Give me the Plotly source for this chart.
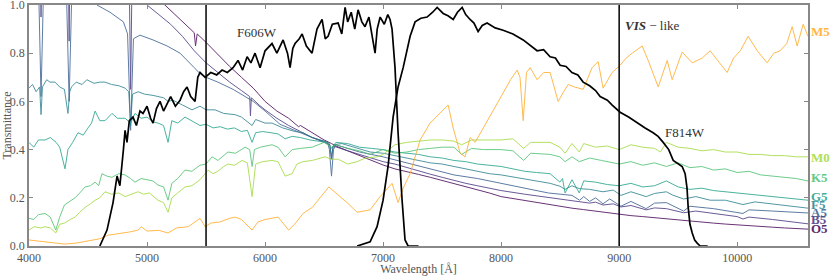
import plotly.graph_objects as go

# ---------------- data ----------------
wl_O5 = [4000,4200,4400,4541,4600,4686,4800,4861,5000,5150,5300,5400,5411,5425,5500,5600,5700,5800,5876,5900,
         6000,6100,6200,6284,6300,6400,6500,6563,6600,6700,6800,6900,7000,7100,7200,7300,7400,7500,7600,7700,
         7800,7900,8000,8100,8200,8300,8400,8500,8600,8700,8800,8900,9000,9100,9200,9300,9400,9500,9600,9700,
         9800,9900,10000,10100,10200,10300,10400,10500,10600]
O5 = [1.62,1.52,1.42,1.34,1.32,1.27,1.19,1.15,1.07,1.0,0.93,0.885,0.83,0.88,0.845,0.795,0.745,0.70,0.665,0.655,
      0.60,0.56,0.53,0.495,0.50,0.47,0.44,0.425,0.415,0.395,0.375,0.355,0.336,0.32,0.31,0.297,0.285,0.272,0.26,0.247,
      0.235,0.22,0.205,0.197,0.187,0.178,0.17,0.164,0.157,0.151,0.145,0.138,0.13,0.126,0.122,0.117,0.112,0.108,0.102,0.098,
      0.095,0.091,0.087,0.084,0.081,0.078,0.075,0.073,0.07]

wl_B5 = [4000,4090,4102,4114,4200,4300,4330,4340,4350,4471,4600,4700,4800,4850,4861,4872,4950,5000,5100,5200,
         5300,5400,5500,5600,5700,5800,5870,5876,5884,5950,6000,6100,6200,6300,6400,6500,6550,6563,6576,6700,
         6800,6900,7000,7100,7200,7300,7400,7500,7600,7700,7800,7900,8000,8200,8400,8600,8750,8800,8863,8950,
         9015,9100,9229,9300,9400,9546,9650,9800,10000,10049,10100,10300,10600]
B5 = [1.45,1.41,0.95,1.40,1.37,1.33,1.32,0.85,1.31,1.24,1.19,1.15,1.10,1.08,0.65,1.07,1.04,1.0,0.96,0.92,
      0.87,0.81,0.76,0.72,0.68,0.645,0.62,0.54,0.615,0.585,0.565,0.53,0.50,0.475,0.45,0.43,0.42,0.36,0.415,0.395,
      0.38,0.365,0.35,0.34,0.325,0.31,0.298,0.285,0.272,0.26,0.25,0.24,0.23,0.215,0.20,0.188,0.178,0.182,0.17,0.175,
      0.162,0.168,0.15,0.158,0.155,0.138,0.145,0.135,0.122,0.112,0.12,0.11,0.092]

wl_A5 = [4000,4060,4085,4102,4120,4150,4300,4320,4340,4360,4400,4500,4576,4686,4800,4835,4861,4885,4940,5051,
         5170,5280,5400,5449,5500,5600,5729,5800,5900,6000,6127,6250,6400,6530,6545,6563,6580,6600,6700,6800,
         6900,7000,7200,7400,7600,7800,8000,8200,8400,8500,8600,8665,8700,8750,8800,8863,8920,9015,9100,9229,
         9300,9400,9546,9600,9800,10049,10100,10300,10600]
A5 = [1.12,1.12,1.0,0.62,1.0,1.12,1.10,1.0,0.60,1.0,1.08,1.04,1.0,0.97,0.93,0.88,0.48,0.86,0.875,0.855,
      0.83,0.80,0.74,0.715,0.70,0.68,0.65,0.63,0.60,0.56,0.505,0.48,0.45,0.43,0.40,0.29,0.40,0.42,0.405,0.39,
      0.38,0.37,0.345,0.32,0.295,0.28,0.26,0.24,0.22,0.215,0.21,0.19,0.205,0.185,0.20,0.175,0.195,0.165,0.185,0.155,
      0.178,0.18,0.145,0.165,0.155,0.135,0.15,0.145,0.137]

wl_F5 = [4000,4030,4060,4090,4102,4114,4150,4178,4220,4260,4300,4330,4345,4360,4400,4450,4490,4550,4600,4644,
         4700,4760,4814,4845,4861,4877,4924,4980,5050,5093,5140,5178,5220,5300,5381,5449,5500,5576,5650,5746,
         5800,5890,5920,6000,6059,6150,6254,6320,6398,6500,6545,6563,6580,6650,6750,6890,7000,7100,7200,7300,
         7400,7500,7600,7700,7800,7900,8000,8100,8200,8300,8415,8498,8542,8600,8662,8750,8863,8950,9015,9100,
         9229,9300,9400,9450,9546,9650,9771,9900,10049,10150,10300,10450,10600]
F5 = [0.655,0.67,0.64,0.66,0.545,0.66,0.69,0.68,0.68,0.66,0.65,0.55,0.64,0.66,0.68,0.67,0.69,0.675,0.68,0.68,
      0.67,0.665,0.655,0.64,0.50,0.63,0.64,0.63,0.625,0.62,0.615,0.60,0.605,0.585,0.565,0.58,0.565,0.565,0.55,0.545,
      0.535,0.50,0.525,0.51,0.51,0.49,0.475,0.47,0.45,0.435,0.425,0.37,0.42,0.425,0.41,0.39,0.385,0.375,0.365,0.355,
      0.345,0.34,0.33,0.32,0.31,0.30,0.295,0.287,0.28,0.27,0.26,0.248,0.235,0.25,0.238,0.235,0.225,0.232,0.21,0.225,
      0.205,0.218,0.225,0.212,0.195,0.205,0.19,0.19,0.172,0.183,0.175,0.168,0.157]

wl_G5 = [4000,4040,4080,4136,4180,4230,4260,4305,4330,4370,4415,4460,4500,4530,4560,4600,4644,4680,4703,4750,
         4814,4861,4898,4950,5000,5050,5093,5140,5178,5210,5260,5322,5380,5449,5500,5560,5620,5680,5740,5800,
         5850,5890,5920,5980,6050,6110,6170,6230,6300,6380,6450,6520,6563,6600,6700,6800,6900,7000,7100,7200,
         7300,7400,7500,7600,7700,7800,7900,8000,8100,8200,8300,8415,8498,8520,8542,8600,8662,8700,8800,8900,
         9000,9100,9200,9300,9400,9500,9600,9700,9800,9900,10000,10200,10400,10600]
G5 = [0.43,0.41,0.44,0.44,0.45,0.43,0.41,0.32,0.40,0.43,0.47,0.46,0.49,0.51,0.56,0.52,0.52,0.54,0.55,0.53,
      0.53,0.51,0.55,0.53,0.535,0.515,0.51,0.50,0.43,0.52,0.51,0.535,0.52,0.50,0.505,0.49,0.495,0.485,0.49,0.475,
      0.48,0.43,0.47,0.475,0.47,0.465,0.445,0.455,0.45,0.44,0.435,0.43,0.405,0.43,0.425,0.41,0.405,0.40,0.39,0.385,
      0.38,0.37,0.365,0.355,0.35,0.34,0.335,0.33,0.32,0.31,0.305,0.30,0.265,0.28,0.22,0.275,0.22,0.27,0.265,0.255,
      0.25,0.26,0.245,0.25,0.27,0.245,0.235,0.24,0.23,0.225,0.22,0.21,0.2,0.19]

wl_K5 = [4000,4040,4080,4136,4180,4227,4260,4300,4330,4390,4430,4475,4520,4560,4590,4618,4660,4703,4760,4814,
         4860,4898,4950,5000,5050,5093,5140,5178,5210,5260,5322,5380,5449,5500,5551,5600,5650,5686,5750,5831,
         5870,5890,5910,5960,6059,6110,6170,6230,6300,6400,6500,6563,6600,6700,6800,6890,7000,7100,7200,7300,
         7400,7500,7600,7665,7750,7850,8000,8100,8190,8250,8415,8498,8542,8600,8662,8750,8850,9000,9100,9200,
         9300,9400,9500,9600,9700,9800,9900,10000,10100,10200,10300,10400,10500,10600]
K5 = [0.115,0.11,0.13,0.135,0.12,0.066,0.12,0.17,0.18,0.20,0.22,0.245,0.25,0.265,0.25,0.30,0.29,0.285,0.30,0.295,
      0.28,0.265,0.28,0.275,0.27,0.253,0.245,0.19,0.26,0.28,0.315,0.31,0.335,0.34,0.37,0.355,0.375,0.39,0.385,0.41,
      0.40,0.33,0.40,0.41,0.42,0.41,0.37,0.40,0.405,0.41,0.43,0.41,0.42,0.405,0.395,0.38,0.40,0.385,0.39,0.40,
      0.405,0.41,0.41,0.38,0.405,0.40,0.40,0.395,0.355,0.385,0.38,0.37,0.35,0.37,0.35,0.365,0.355,0.34,0.35,0.335,
      0.345,0.33,0.345,0.325,0.33,0.315,0.32,0.305,0.31,0.295,0.29,0.285,0.28,0.27]

wl_M0 = [4000,4045,4100,4136,4180,4227,4260,4300,4350,4390,4430,4475,4520,4560,4600,4644,4700,4760,4814,4870,
         4924,4970,5020,5093,5140,5178,5210,5260,5322,5380,5449,5517,5560,5600,5650,5686,5740,5805,5850,5890,
         5920,5980,6059,6110,6170,6229,6270,6320,6400,6508,6560,6620,6700,6780,6850,6950,7000,7050,7100,7200,
         7300,7400,7500,7600,7665,7750,7850,8000,8100,8190,8250,8415,8498,8542,8600,8662,8700,8800,8900,9000,
         9100,9200,9300,9350,9400,9500,9600,9700,9800,9900,10000,10100,10200,10300,10400,10500,10600]
M0 = [0.066,0.08,0.075,0.08,0.075,0.054,0.09,0.095,0.11,0.12,0.14,0.16,0.175,0.19,0.20,0.225,0.215,0.22,0.205,0.215,
      0.225,0.215,0.22,0.19,0.18,0.14,0.20,0.22,0.245,0.25,0.275,0.315,0.30,0.31,0.33,0.34,0.335,0.355,0.345,0.205,
      0.34,0.35,0.355,0.35,0.29,0.30,0.34,0.35,0.355,0.37,0.36,0.36,0.34,0.35,0.365,0.37,0.38,0.40,0.42,0.43,
      0.435,0.44,0.44,0.435,0.42,0.44,0.44,0.44,0.445,0.405,0.43,0.43,0.41,0.385,0.425,0.39,0.425,0.41,0.415,0.40,
      0.42,0.41,0.405,0.39,0.43,0.41,0.405,0.395,0.40,0.39,0.39,0.38,0.38,0.375,0.375,0.37,0.37]

wl_M5 = [4000,4100,4200,4300,4400,4500,4600,4670,4760,4850,4925,4950,5000,5100,5178,5250,5350,5449,5492,5540,
         5620,5700,5746,5800,5890,5940,6000,6042,6110,6200,6250,6322,6400,6466,6540,6600,6695,6780,6890,6975,
         7076,7127,7170,7229,7314,7398,7483,7551,7594,7653,7695,7737,7780,7881,7950,8017,8080,8136,8160,8187,
         8215,8246,8305,8360,8415,8483,8530,8568,8620,8695,8771,8822,8864,8941,9008,9060,9110,9195,9246,9331,
         9407,9449,9534,9619,9704,9771,9850,9915,9970,10026,10093,10170,10254,10310,10364,10420,10466,10508,10559,10600]
M5 = [0.025,0.02,0.012,0.008,0.012,0.02,0.03,0.045,0.05,0.058,0.066,0.08,0.062,0.065,0.054,0.075,0.08,0.115,0.08,0.095,
      0.10,0.115,0.12,0.11,0.066,0.10,0.11,0.115,0.12,0.066,0.09,0.135,0.16,0.20,0.245,0.22,0.18,0.14,0.15,0.205,
      0.26,0.18,0.24,0.30,0.44,0.51,0.55,0.585,0.49,0.385,0.37,0.45,0.43,0.52,0.58,0.635,0.69,0.73,0.70,0.52,
      0.72,0.74,0.69,0.72,0.72,0.60,0.64,0.67,0.66,0.65,0.74,0.765,0.655,0.72,0.75,0.78,0.80,0.83,0.77,0.66,
      0.77,0.69,0.805,0.76,0.78,0.81,0.76,0.72,0.78,0.81,0.87,0.81,0.76,0.80,0.81,0.84,0.91,0.83,0.92,0.87]

wl_F606W = [4600,4661,4712,4746,4770,4788,4800,4814,4830,4850,4881,4910,4940,4966,5000,5030,5051,5080,5110,5140,
            5169,5200,5240,5280,5310,5339,5370,5407,5430,5449,5492,5540,5590,5636,5680,5729,5771,5810,5848,5880,
            5915,5958,6000,6059,6100,6153,6190,6212,6235,6254,6290,6314,6350,6398,6440,6483,6510,6534,6570,6619,
            6650,6678,6700,6730,6760,6788,6820,6847,6880,6910,6932,6950,6975,7010,7040,7059,7076,7101,7127,7161,
            7186,7212,7300]
F606W = [0.0,0.066,0.18,0.29,0.25,0.33,0.40,0.48,0.43,0.52,0.535,0.50,0.56,0.55,0.58,0.53,0.51,0.57,0.60,0.56,
         0.59,0.62,0.58,0.605,0.64,0.66,0.62,0.60,0.70,0.72,0.70,0.72,0.71,0.73,0.72,0.74,0.77,0.73,0.785,0.76,
         0.80,0.74,0.81,0.84,0.80,0.855,0.80,0.74,0.82,0.84,0.86,0.88,0.83,0.80,0.90,0.94,0.86,0.87,0.92,0.925,
         0.88,0.99,0.93,0.97,0.90,0.98,0.93,0.91,0.95,0.86,0.80,0.90,0.95,0.92,0.96,0.94,0.90,0.74,0.47,0.19,
         0.025,0.0,0.0]

wl_F814W = [6780,6890,6949,7000,7042,7085,7127,7170,7229,7271,7320,7373,7420,7458,7509,7550,7594,7630,7670,7700,
            7737,7770,7805,7840,7881,7950,8017,8100,8187,8250,8305,8360,8415,8460,8500,8550,8600,8650,8695,8750,
            8800,8839,8900,8941,9008,9080,9153,9220,9288,9330,9373,9420,9458,9500,9534,9559,9575,9585,9600,9619,
            9640,9661,9686,9750]
F814W = [0.0,0.017,0.08,0.19,0.33,0.535,0.66,0.74,0.87,0.93,0.945,0.95,0.97,0.99,0.965,0.955,0.94,0.97,0.99,0.96,
         0.94,0.925,0.89,0.915,0.925,0.905,0.895,0.88,0.855,0.83,0.81,0.815,0.785,0.78,0.75,0.745,0.72,0.71,0.68,0.665,
         0.645,0.62,0.605,0.585,0.555,0.535,0.51,0.49,0.47,0.455,0.43,0.40,0.355,0.34,0.33,0.30,0.24,0.16,0.09,0.054,
         0.025,0.012,0.0,0.0]

star_names = ["O5", "B5", "A5", "F5", "G5", "K5", "M0", "M5"]
star_colors = ["#440154", "#46327e", "#365c8d", "#277f8e", "#1fa187", "#4ac16d", "#a0da39", "#ffaa22"]
star_label_y = [0.071, 0.108, 0.141, 0.174, 0.207, 0.286, 0.369, 0.892]
vis_edges = [5500, 9000]
x_ticks = [4000, 5000, 6000, 7000, 8000, 9000, 10000]
y_ticks = [0.0, 0.2, 0.4, 0.6, 0.8, 1.0]

spectra = {"O5": (wl_O5, O5), "B5": (wl_B5, B5), "A5": (wl_A5, A5), "F5": (wl_F5, F5),
           "G5": (wl_G5, G5), "K5": (wl_K5, K5), "M0": (wl_M0, M0), "M5": (wl_M5, M5)}

FONT = "Liberation Serif"

fig = go.Figure()
for name, col in zip(star_names, star_colors):
    wl, v = spectra[name]
    fig.add_trace(go.Scatter(x=wl, y=v, mode="lines", line=dict(color=col, width=1.0),
                             opacity=0.8, showlegend=False, hoverinfo="skip"))

for wl, v in [(wl_F606W, F606W), (wl_F814W, F814W)]:
    fig.add_trace(go.Scatter(x=wl, y=v, mode="lines", line=dict(color="black", width=1.7),
                             showlegend=False, hoverinfo="skip"))

for xe in vis_edges:
    fig.add_shape(type="line", xref="x", yref="paper", x0=xe, x1=xe, y0=0, y1=1,
                  line=dict(color="black", width=1.5))

for name, col, ly in zip(star_names, star_colors, star_label_y):
    fig.add_annotation(x=1, xref="paper", y=ly, yref="y", text="<b>%s</b>" % name,
                       showarrow=False, xanchor="left", yanchor="middle", xshift=1,
                       font=dict(family=FONT, size=13, color=col), opacity=0.85)

fig.add_annotation(x=5933, y=0.884, text="F606W", showarrow=False,
                   font=dict(family=FONT, size=13, color="#333"))
fig.add_annotation(x=9560, y=0.473, text="F814W", showarrow=False,
                   font=dict(family=FONT, size=13, color="#333"))
fig.add_annotation(x=9034, y=0.917, text="<b><i>VIS</i></b> − like", showarrow=False,
                   xanchor="left", font=dict(family=FONT, size=13, color="#333"))

axis_common = dict(showline=True, linecolor="#888", linewidth=1.5, mirror="ticks",
                   ticks="inside", ticklen=4, tickcolor="#888", showgrid=False, zeroline=False,
                   automargin=False, ticklabeloverflow="allow",
                   tickfont=dict(family=FONT, size=12, color="#555"))

fig.update_layout(
    width=830, height=276,
    margin=dict(l=29, r=22, t=5, b=30),
    paper_bgcolor="white", plot_bgcolor="white",
    xaxis=dict(range=[4000, 10600], tickvals=x_ticks, ticktext=[str(t) for t in x_ticks],
               title=dict(text="Wavelength [Å]", font=dict(family=FONT, size=12, color="#555"), standoff=0),
               **axis_common),
    yaxis=dict(range=[0, 1], tickvals=y_ticks, ticktext=["%.1f" % t for t in y_ticks],
               title=dict(text="Transmittance", font=dict(family=FONT, size=12, color="#555"), standoff=0),
               **axis_common),
)

fig.write_html("out.html", config={"displayModeBar": False},
               post_script="document.body.style.margin='0';document.body.style.overflow='hidden';")
